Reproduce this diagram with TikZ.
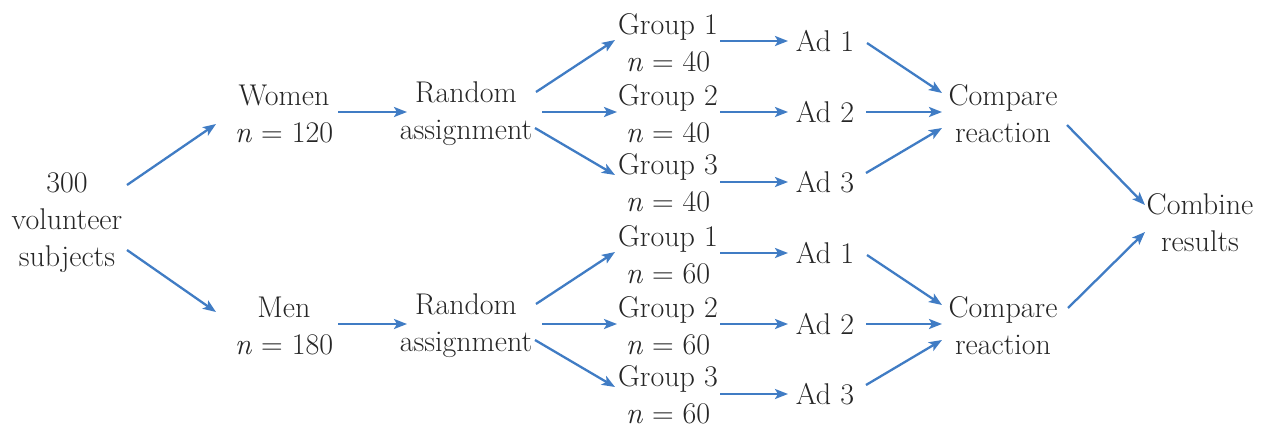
\documentclass[tikz,border=0pt]{standalone}
\usetikzlibrary{arrows.meta}
\definecolor{arrblue}{RGB}{64,124,196}
\newcommand{\nn}[1]{\textit{n} = #1}
\begin{document}
\begin{tikzpicture}[x=1pt,y=-1pt,
  lbl/.style={inner sep=0pt,align=center,text=black!85,font=\fontsize{30pt}{37pt}\selectfont},
  arr/.style={draw=arrblue,line width=2.3pt,-{Stealth[length=13pt,width=10pt,inset=3pt]}}]
\useasboundingbox (0,0) rectangle (1270,429);
\node[lbl] (S) at (67,223) {300\\volunteer\\subjects};
\node[lbl] (C) at (1200,223) {Combine\\results};
\foreach \p/\dy/\who/\n/\g in {T/0/Women/120/40, B/212/Men/180/60} {
  \node[lbl] (P\p) at (284,{114+\dy}) {\who\\\nn{\n}};
  \node[lbl] (R\p) at (466,{114+\dy}) {Random\\assignment};
  \node[lbl] (G1\p) at (668,{43+\dy}) {Group 1\\\nn{\g}};
  \node[lbl] (G2\p) at (668,{114+\dy}) {Group 2\\\nn{\g}};
  \node[lbl] (G3\p) at (668,{183+\dy}) {Group 3\\\nn{\g}};
  \node[lbl] (A1\p) at (825,{41+\dy}) {Ad 1};
  \node[lbl] (A2\p) at (825,{112+\dy}) {Ad 2};
  \node[lbl] (A3\p) at (825,{182+\dy}) {Ad 3};
  \node[lbl] (K\p) at (1003,{114+\dy}) {Compare\\reaction};
  \draw[arr] ([xshift=54pt,yshift=2pt]P\p.center) -- ([xshift=-59pt,yshift=2pt]R\p.center);
  \draw[arr] ([xshift=70pt,yshift=22pt]R\p.center) -- ([xshift=-53pt,yshift=3pt]G1\p.center);
  \draw[arr] ([xshift=76pt,yshift=2pt]R\p.center) -- ([xshift=-51pt,yshift=2pt]G2\p.center);
  \draw[arr] ([xshift=69pt,yshift=-14pt]R\p.center) -- ([xshift=-53pt,yshift=8pt]G3\p.center);
  \draw[arr] ([xshift=52pt,yshift=2pt]G1\p.center) -- ([xshift=-37pt]A1\p.center);
  \draw[arr] ([xshift=52pt,yshift=2pt]G2\p.center) -- ([xshift=-37pt]A2\p.center);
  \draw[arr] ([xshift=52pt,yshift=1pt]G3\p.center) -- ([xshift=-37pt]A3\p.center);
  \draw[arr] ([xshift=42pt,yshift=-2pt]A1\p.center) -- ([xshift=-61pt,yshift=21pt]K\p.center);
  \draw[arr] ([xshift=41pt]A2\p.center) -- ([xshift=-61pt,yshift=2pt]K\p.center);
  \draw[arr] ([xshift=41pt,yshift=9pt]A3\p.center) -- ([xshift=-61pt,yshift=-14pt]K\p.center);
}
\draw[arr] ([xshift=60pt,yshift=38pt]S.center) -- ([xshift=-68pt,yshift=-10pt]PT.center);
\draw[arr] ([xshift=60pt,yshift=-27pt]S.center) -- ([xshift=-68pt,yshift=14pt]PB.center);
\draw[arr] ([xshift=64pt,yshift=-11pt]KT.center) -- ([xshift=-55pt,yshift=18pt]C.center);
\draw[arr] ([xshift=65pt,yshift=18pt]KB.center) -- ([xshift=-55pt,yshift=-9pt]C.center);
\end{tikzpicture}
\end{document}
